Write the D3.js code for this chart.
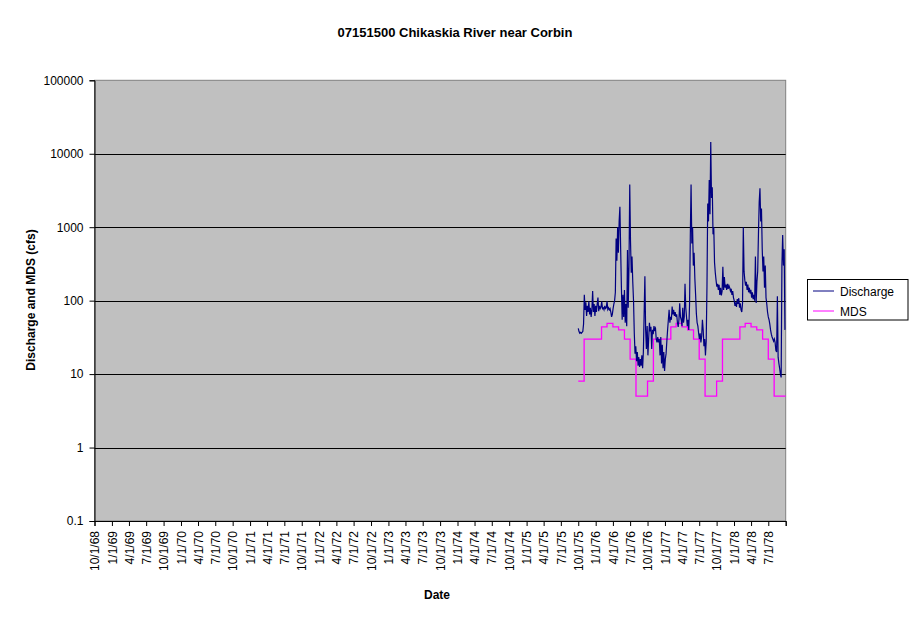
<!DOCTYPE html>
<html>
<head>
<meta charset="utf-8">
<script src="https://cdn.jsdelivr.net/npm/d3@7"></script>
<style>
  body { margin: 0; background: #fff; }
  text { font-family: "Liberation Sans", Arial, sans-serif; }
</style>
</head>
<body>
<script>
// chart data
var chartTitle = '07151500 Chikaskia River near Corbin';
var seriesNames = ['Discharge', 'MDS'];
var yTickValues = [100000, 10000, 1000, 100, 10, 1, 0.1];
var yTickLabels = ['100000', '10000', '1000', '100', '10', '1', '0.1'];
var xStart = '1968-10-01', xEnd = '1978-10-01';

// daily discharge, sampled every 4 days from 10/1/75
var dischargeStart = '1975-10-01', dischargeStepDays = 4;
var discharge = [
  42, 38, 36, 37, 36, 37, 38, 48, 120, 75,
  95, 62, 85, 70, 98, 65, 80, 60, 75, 135,
  70, 90, 62, 85, 70, 90, 110, 72, 85, 78,
  82, 97, 78, 80, 75, 85, 78, 80, 98, 76,
  80, 75, 78, 70, 60, 65, 78, 90, 100, 130,
  700, 350, 1000, 450, 1200, 1900, 500, 150, 55, 120,
  60, 140, 50, 90, 45, 490, 80, 300, 3800, 650,
  240, 400, 180, 100, 36, 19, 24, 15, 20, 13,
  17, 12.5, 16, 13, 18, 12, 20, 65, 215, 40,
  22, 45, 18, 30, 50, 38, 44, 22, 40, 35,
  45, 40, 42, 30, 27, 32, 27, 30, 18, 32,
  14, 25, 12, 20, 11, 16, 19, 28, 40, 55,
  75, 50, 60, 55, 83, 65, 75, 62, 70, 60,
  65, 50, 44, 55, 92, 60, 55, 45, 80, 50,
  60, 170, 80, 60, 45, 55, 40, 90, 750, 3800,
  600, 1000, 300, 450, 200, 120, 67, 50, 45, 36,
  30, 36, 27, 33, 55, 40, 24, 30, 18, 28,
  155, 2100, 1200, 4400, 1500, 14500, 2500, 3500, 800, 1000,
  330, 240, 190, 155, 170, 140, 165, 120, 150, 118,
  135, 290, 140, 210, 150, 165, 140, 170, 145, 160,
  150, 135, 145, 120, 135, 110, 100, 85, 95, 82,
  105, 90, 108, 80, 92, 75, 70, 92, 1000, 250,
  190, 160, 180, 140, 165, 130, 150, 125, 140, 110,
  130, 105, 120, 100, 400, 93, 180, 250, 800, 2200,
  3400, 1200, 1800, 500, 250, 400, 150, 300, 110, 90,
  70, 60, 55, 48, 40, 35, 32, 30, 28, 30,
  27, 21, 20, 115, 17, 14, 12, 10, 9, 300,
  780, 300, 500, 40
];

// monthly MDS, Oct 1975 .. Sep 1978
var mdsStart = '1975-10-01';
var mds = [
  8, 30, 30, 30, 44, 49, 44, 40, 30, 16, 5, 5,
  8, 30, 30, 30, 44, 49, 44, 40, 30, 16, 5, 5,
  8, 30, 30, 30, 44, 49, 44, 40, 30, 16, 5, 5
];

var width = 911, height = 623,
    plotLeft = 94.5, plotRight = 785.7, plotTop = 80.3, plotBottom = 521;

var parse = d3.utcParse('%Y-%m-%d'),
    fmt = d3.utcFormat('%-m/%-d/%y');

var x = d3.scaleUtc().domain([parse(xStart), parse(xEnd)]).range([plotLeft, plotRight]);
var y = d3.scaleLog().domain([0.1, 100000]).range([plotBottom, plotTop]);

var svg = d3.select('body').append('svg')
            .attr('width', width).attr('height', height);

// plot area
svg.append('rect')
   .attr('x', plotLeft).attr('y', plotTop)
   .attr('width', plotRight - plotLeft).attr('height', plotBottom - plotTop)
   .style('fill', '#c0c0c0')
   .style('stroke', '#808080');

// gridlines
svg.append('g')
   .selectAll('line')
   .data(yTickValues.slice(1, -1))
   .enter().append('line')
   .attr('x1', plotLeft).attr('x2', plotRight)
   .attr('y1', function(d) { return Math.round(y(d)) + 0.5; })
   .attr('y2', function(d) { return Math.round(y(d)) + 0.5; })
   .style('stroke', '#000');

// y axis
var yAxis = d3.axisLeft(y)
              .tickValues(yTickValues)
              .tickSize(5).tickPadding(6)
              .tickFormat(function(d, i) { return yTickLabels[i]; });
var gy = svg.append('g').attr('transform', 'translate(' + plotLeft + ',0)').call(yAxis);
gy.selectAll('text').style('font-size', '12px').style('fill', '#000');
gy.selectAll('line, path').style('stroke', '#000');

// x axis, one tick per quarter
var quarterTicks = d3.utcMonth.every(3).range(parse(xStart), d3.utcDay.offset(parse(xEnd), 1));
var xAxis = d3.axisBottom(x)
              .tickValues(quarterTicks)
              .tickSize(5)
              .tickFormat(function(d) { return +d < +parse(xEnd) ? fmt(d) : ''; });
var gx = svg.append('g').attr('transform', 'translate(0,' + plotBottom + ')').call(xAxis);
gx.selectAll('line, path').style('stroke', '#000');
gx.selectAll('text')
  .style('font-size', '12px').style('fill', '#000')
  .attr('text-anchor', 'end')
  .attr('transform', 'translate(0,10) rotate(-90)')
  .attr('x', 0).attr('y', 0).attr('dy', '0.35em');

// series
var dischargeData = discharge.map(function(v, i) {
    return { date: d3.utcDay.offset(parse(dischargeStart), i * dischargeStepDays), value: v };
});
var mdsData = mds.map(function(v, i) {
    return { date: d3.utcMonth.offset(parse(mdsStart), i), value: v };
});
mdsData.push({ date: parse(xEnd), value: mds[mds.length - 1] });

var line = d3.line()
             .x(function(d) { return x(d.date); })
             .y(function(d) { return y(d.value); });

svg.append('path')
   .datum(mdsData)
   .attr('d', line.curve(d3.curveStepAfter))
   .style('fill', 'none').style('stroke', '#ff00ff').style('stroke-width', 1.3);

svg.append('path')
   .datum(dischargeData)
   .attr('d', line.curve(d3.curveLinear))
   .style('fill', 'none').style('stroke', '#000080').style('stroke-width', 1.2);

// titles
svg.append('text')
   .attr('x', 455).attr('y', 37)
   .attr('text-anchor', 'middle')
   .style('font-size', '13px').style('font-weight', 'bold')
   .text(chartTitle);

svg.append('text')
   .attr('transform', 'translate(34.5,300) rotate(-90)')
   .attr('text-anchor', 'middle')
   .style('font-size', '12px').style('font-weight', 'bold')
   .text('Discharge and MDS (cfs)');

svg.append('text')
   .attr('x', 437).attr('y', 599)
   .attr('text-anchor', 'middle')
   .style('font-size', '12px').style('font-weight', 'bold')
   .text('Date');

// legend
var legend = svg.append('g');
legend.append('rect')
      .attr('x', 807.5).attr('y', 279.5).attr('width', 100.5).attr('height', 40.5)
      .style('fill', '#fff').style('stroke', '#000');
var legendColors = ['#000080', '#ff00ff'];
seriesNames.forEach(function(name, i) {
    var ly = 291 + i * 20;
    legend.append('line')
          .attr('x1', 813).attr('x2', 834).attr('y1', ly).attr('y2', ly)
          .style('stroke', legendColors[i]);
    legend.append('text')
          .attr('x', 840).attr('y', ly + 4.5)
          .style('font-size', '12px')
          .text(name);
});
</script>
</body>
</html>
